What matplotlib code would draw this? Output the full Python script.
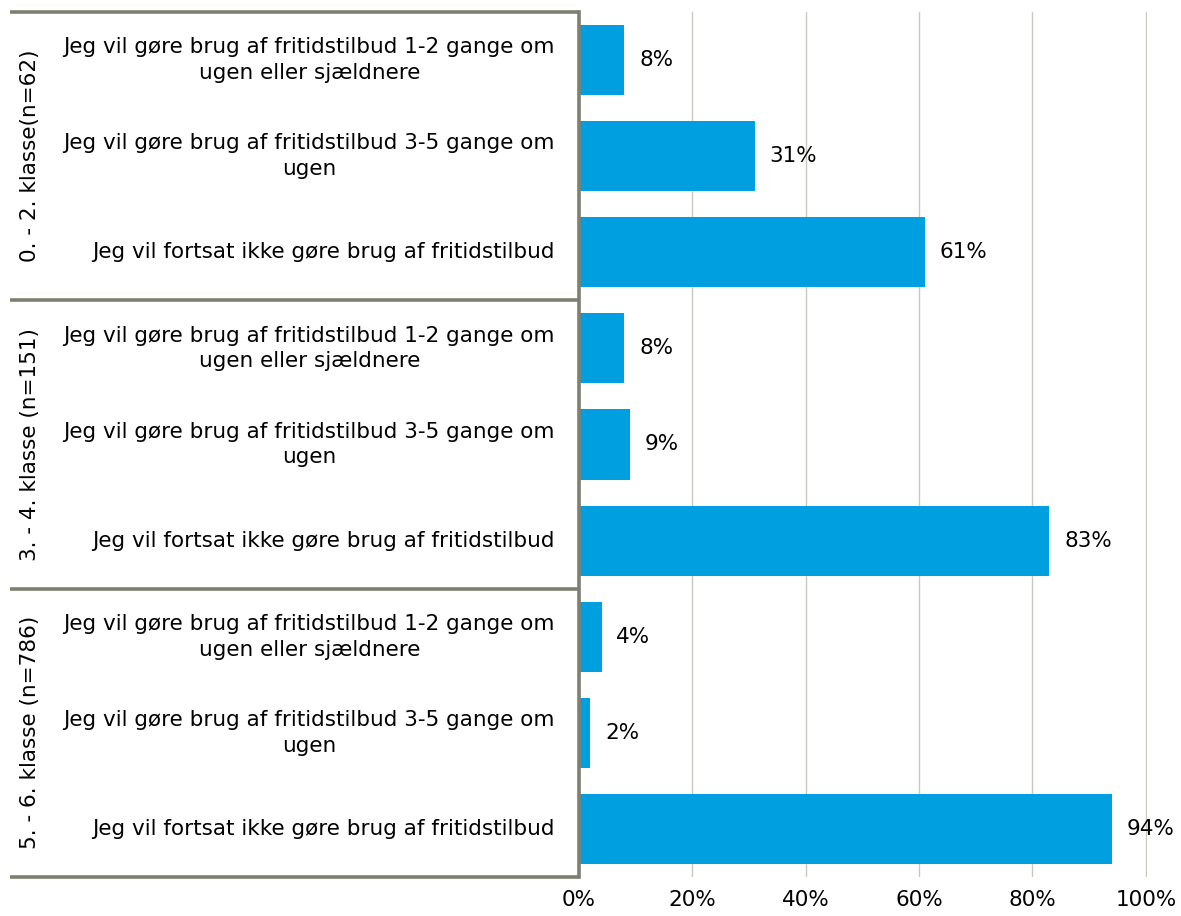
import matplotlib.pyplot as plt
import matplotlib.transforms as mtransforms
import numpy as np

plt.rcParams['font.family'] = ['DejaVu Sans']

# data
groups = ['0. - 2. klasse(n=62)', '3. - 4. klasse (n=151)', '5. - 6. klasse (n=786)']
answers = ['Jeg vil gøre brug af fritidstilbud 1-2 gange om\nugen eller sjældnere',
           'Jeg vil gøre brug af fritidstilbud 3-5 gange om\nugen',
           'Jeg vil fortsat ikke gøre brug af fritidstilbud']
values = [[8, 31, 61], [8, 9, 83], [4, 2, 94]]
xticks = [0, 20, 40, 60, 80, 100]

bar_color = '#009fe0'
line_color = '#7f7f70'
W, H = 1181, 916
fs = 15.5

fig = plt.figure(figsize=(W / 100, H / 100), dpi=100)
ax = fig.add_axes([579 / W, 1 - 877 / H, (1147 - 579) / W, (877 - 12) / H])

vals = np.array(values).flatten()
n = len(vals)
ypos = np.arange(n)
ax.barh(ypos, vals, height=0.73, color=bar_color, zorder=2)
ax.set_ylim(n - 0.5, -0.5)
ax.set_xlim(0, 100.2)

for y, v in zip(ypos, vals):
    ax.text(v + 2.6, y, f'{v}%', va='center', ha='left', fontsize=fs)

ax.set_xticks(xticks)
ax.set_xticklabels([f'{t}%' for t in xticks], fontsize=fs)
ax.tick_params(axis='x', length=0, pad=9)
ax.set_yticks([])
ax.grid(axis='x', color='#c8c8bd', linewidth=1, zorder=0)
for s in ['top', 'right', 'bottom']:
    ax.spines[s].set_visible(False)
ax.spines['left'].set_color(line_color)
ax.spines['left'].set_linewidth(2.6)
ax.spines['left'].set_zorder(3)

# category labels and group boxes left of axis
trans = mtransforms.blended_transform_factory(fig.transFigure, ax.transData)
for i in range(n):
    ax.text(555 / W, i, answers[i % 3], transform=trans, ha='right', va='center',
            multialignment='center', fontsize=fs, linespacing=1.35)

for g, name in enumerate(groups):
    ax.text(30 / W, g * 3 + 1, name, transform=trans, rotation=90,
            ha='center', va='center', fontsize=fs)

for b in np.arange(len(groups) + 1) * 3 - 0.5:
    ax.plot([10 / W, 579 / W], [b, b], transform=trans, color=line_color,
            linewidth=2.6, clip_on=False, solid_capstyle='butt', zorder=3)

fig.savefig('out.png', dpi=100)
